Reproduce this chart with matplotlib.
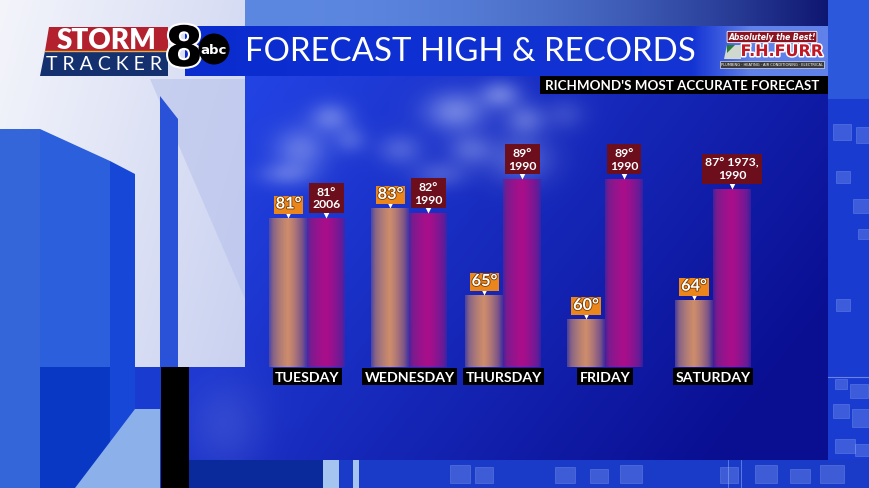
import numpy as np
import matplotlib
matplotlib.use("Agg")
import matplotlib.pyplot as plt
from matplotlib.patches import Rectangle, Polygon, Circle
from matplotlib.colors import to_rgb
import matplotlib.transforms as mtransforms
import matplotlib.patheffects as pe

# ---------------- data ----------------
days = ["TUESDAY", "WEDNESDAY", "THURSDAY", "FRIDAY", "SATURDAY"]
forecast_high = [81, 83, 65, 60, 64]
record_high = [81, 82, 89, 89, 87]
record_years = ["2006", "1990", "1990", "1990", "1973, 1990"]
title = "FORECAST HIGH & RECORDS"
subtitle = "RICHMOND'S MOST ACCURATE FORECAST"

# ---------------- layout ----------------
W, H = 870, 489
BASE = 50            # axis baseline (deg)
BASE_PX = 368.3      # pixel row of baseline
PX_PER_DEG = 4.83
group_x = [307.5, 409.5, 503.5, 605.0, 713.0]
BAR_W = 38

fig = plt.figure(figsize=(W / 100, H / 100), dpi=100)

# ---------- background (pixel coords) ----------
bg = fig.add_axes([0, 0, 1, 1])
bg.set_xlim(0, W)
bg.set_ylim(H, 0)
bg.axis("off")

yy, xx = np.mgrid[0:H, 0:W].astype(float)
img = np.zeros((H, W, 3))
img[:] = to_rgb("#1a3bd0")

# main panel gradient
bright = np.array(to_rgb("#2446e8"))
dark = np.array(to_rgb("#0a0f92"))
t = 0.8 * (xx - 190) / 640 + 0.45 * (yy / 460) - 0.1
t = np.clip(t, 0, 1)[..., None]
panel = bright * (1 - t) + dark * t
# clouds
clouds = [(300, 150, 26, 22, 0.40), (330, 118, 20, 15, 0.40), (285, 175, 26, 12, 0.30),
          (350, 140, 16, 14, 0.26), (400, 150, 22, 16, 0.28), (455, 112, 30, 20, 0.50),
          (500, 95, 20, 14, 0.45), (525, 120, 20, 16, 0.36), (520, 160, 32, 24, 0.34),
          (470, 150, 22, 16, 0.32), (440, 175, 26, 14, 0.26), (565, 115, 20, 16, 0.18),
          (225, 425, 38, 45, 0.14)]
cl = np.zeros((H, W))
for cx, cy, sx, sy, a in clouds:
    cl += a * np.exp(-(((xx - cx) / sx) ** 2 + ((yy - cy) / sy) ** 2))
cl = np.clip(cl, 0, 0.62)[..., None]
cloud_col = np.array(to_rgb("#bcc8f8"))
panel = panel * (1 - cl) + cloud_col * cl
mask = (xx >= 187) & (xx < 828) & (yy < 461)
img[mask] = panel[mask]

# top band above header
tb = (yy < 27) & (xx >= 187) & (xx < 828)
tt = np.clip((xx - 245) / 583, 0, 1) ** 2.2
top_col = (np.array(to_rgb("#5d88e2"))[None, None, :] * (1 - tt[..., None])
           + np.array(to_rgb("#0e1670"))[None, None, :] * tt[..., None])
img[tb] = top_col[tb]
rt = (xx >= 828) & (yy < 100)
img[rt] = to_rgb("#2c58dc")

# light left area
la = (xx < 245) & (yy < 368)
lt = np.clip(xx / 245 * 0.7 + yy / 368 * 0.3, 0, 1)[..., None]
light = np.array(to_rgb("#f4f5fb")) * (1 - lt) + np.array(to_rgb("#c9d1f0")) * lt
img[la] = light[la]
bs = (yy >= 461) & (xx >= 187)
img[bs] = to_rgb("#1a3ac8")

bg.imshow(img, extent=(0, W, H, 0), aspect="auto", zorder=0, interpolation="bilinear")

def poly(pts, color, z=1, alpha=1.0):
    bg.add_patch(Polygon(pts, closed=True, facecolor=color, edgecolor="none", zorder=z, alpha=alpha))

# left decorative blocks
poly([(150, 80), (245, 80), (245, 300)], "#b9c3ec", 1, 0.6)
poly([(0, 130), (40, 130), (40, 489), (0, 489)], "#3466da", 2)
poly([(40, 130), (110, 162), (110, 489), (40, 489)], "#2b5fdc", 2)
poly([(110, 162), (135, 175), (135, 489), (110, 489)], "#1747d6", 2)
poly([(40, 368), (110, 368), (110, 489), (40, 489)], "#0838c4", 2)
poly([(75, 489), (135, 410), (160, 410), (160, 489)], "#8cb0ea", 2)
poly([(160, 97), (178, 120), (178, 368), (160, 368)], "#2a52d8", 2)
poly([(161, 368), (189, 368), (189, 489), (161, 489)], "#000000", 3)
poly([(189, 461), (330, 461), (330, 489), (189, 489)], "#0a2a9c", 2)
poly([(323, 461), (339, 461), (339, 489), (323, 489)], "#a6c4f0", 3)
poly([(353, 461), (359, 461), (359, 489), (353, 489)], "#a6c4f0", 3)

squares = [(833, 125, 18, 16), (856, 128, 14, 16), (836, 172, 14, 12), (853, 200, 17, 14),
           (858, 230, 12, 10), (836, 300, 14, 12), (835, 380, 12, 10), (850, 385, 18, 14),
           (833, 405, 16, 14), (852, 410, 18, 18), (835, 440, 20, 14), (855, 445, 15, 12),
           (450, 466, 20, 18), (475, 468, 18, 16), (555, 468, 20, 16), (590, 470, 18, 14),
           (620, 466, 22, 18), (720, 468, 18, 16), (755, 466, 22, 18), (790, 470, 20, 14),
           (820, 466, 24, 18)]
for sx, sy, sw, sh in squares:
    bg.add_patch(Rectangle((sx, sy), sw, sh, facecolor="#7f9cf0", edgecolor="#a9bdf6",
                           lw=0.5, alpha=0.35, zorder=2))
bg.plot([828, 870], [378, 378], color="#9fb4f2", lw=0.8, alpha=0.6, zorder=2)
bg.plot([728, 728], [461, 489], color="#9fb4f2", lw=0.6, alpha=0.6, zorder=2)
bg.plot([741, 741], [461, 489], color="#9fb4f2", lw=0.6, alpha=0.6, zorder=2)

# ---------- header ----------
n = 400
hcol = np.zeros((1, n, 3))
c1, c2, c3 = np.array(to_rgb("#0a2ccf")), np.array(to_rgb("#1434d4")), np.array(to_rgb("#6080ea"))
for i, v in enumerate(np.linspace(0, 1, n)):
    if v < 0.79:
        hcol[0, i] = c1 * (1 - v / 0.79) + c2 * (v / 0.79)
    else:
        u = min((v - 0.79) / 0.09, 1)
        hcol[0, i] = c2 * (1 - u) + c3 * u
bg.imshow(hcol, extent=(185, 828, 76.5, 27), aspect="auto", zorder=4)

# Storm tracker logo
poly([(49, 28), (168, 28), (168, 52), (45, 52)], "#b3202e", 5)
poly([(45, 52), (168, 52), (168, 77), (40, 77)], "#14306e", 5)
bg.plot([45, 168], [52, 52], color="#e0b040", lw=1.0, zorder=6)
bg.text(107, 41, "STORM", color="white", fontsize=20, fontweight="heavy", family="Lato",
        ha="center", va="center", zorder=7)
bg.text(104, 65, "T R A C K E R", color="white", fontsize=14, family="Lato",
        ha="center", va="center", zorder=7)
bg.text(184, 52, "8", color="black", fontsize=40, fontweight="bold", family="DejaVu Sans",
        ha="center", va="center", zorder=7,
        path_effects=[pe.withStroke(linewidth=3, foreground="white")])
bg.add_patch(Circle((214, 50), 15.5, facecolor="black", edgecolor="none", zorder=8))
bg.text(214, 50.5, "abc", color="white", fontsize=9.5, fontweight="bold", family="DejaVu Sans",
        ha="center", va="center", zorder=9)

bg.text(245, 52, title, color="white", fontsize=23.8, family="Lato",
        ha="left", va="center", zorder=7)

# FH Furr logo
bg.text(772, 38, "Absolutely the Best!", color="white", fontsize=5.5, fontweight="bold",
        style="italic", family="DejaVu Sans", ha="center", va="center", zorder=8,
        bbox=dict(boxstyle="round,pad=0.15", fc="#8a1420", ec="white", lw=0.6))
bg.text(782, 52.5, "F.H.FURR", color="#c01825", fontsize=11.5, fontweight="bold",
        family="DejaVu Sans", ha="center", va="center", zorder=8,
        path_effects=[pe.withStroke(linewidth=2.2, foreground="white")])
poly([(727, 46), (741, 46), (741, 60), (724, 60)], "#d0d8d0", 8)
poly([(727, 46), (735, 46), (727, 54)], "#2a7a3a", 9)
bg.text(772, 65.5, "PLUMBING · HEATING · AIR CONDITIONING · ELECTRICAL", color="white",
        fontsize=2.6, family="DejaVu Sans", ha="center", va="center", zorder=8,
        bbox=dict(boxstyle="square,pad=0.4", fc="#3a3a3a", ec="white", lw=0.4))

# subtitle strip
bg.add_patch(Rectangle((540, 77), 288, 18, facecolor="black", edgecolor="none", zorder=5))
bg.text(682, 86.3, subtitle, color="white", fontsize=9.6, fontweight="bold", family="Lato",
        ha="center", va="center", zorder=6)

# ---------- chart axes (degrees on y) ----------
ax = fig.add_axes([0, 0, 1, 1], facecolor="none")
ymin = BASE - (H - BASE_PX) / PX_PER_DEG
ymax = BASE + BASE_PX / PX_PER_DEG
ax.axis("off")

fx = [g - BAR_W / 2 for g in group_x]
rx = [g + BAR_W / 2 for g in group_x]
fbars = ax.bar(fx, [v - BASE for v in forecast_high], bottom=BASE, width=BAR_W,
               color="#b87a70", edgecolor="none", zorder=3)
rbars = ax.bar(rx, [v - BASE for v in record_high], bottom=BASE, width=BAR_W,
               color="#9a1288", edgecolor="none", zorder=3)

def hgrad(left, center, right, n=64):
    u = np.linspace(-1, 1, n)
    out = np.zeros((1, n, 4))
    L, C, R = map(lambda c: np.array(to_rgb(c)), (left, center, right))
    for i, s in enumerate(u):
        w = abs(s) ** 1.3
        edge = L if s < 0 else R
        out[0, i, :3] = C * (1 - w) + edge * w
        out[0, i, 3] = 1.0 - 0.35 * max(0, abs(s) - 0.8) / 0.2
    return out

fgrad = hgrad("#6e5590", "#cc8c6c", "#5a3c94")
rgrad = hgrad("#6c2090", "#aa0e8a", "#54209c")
for bars, grad in ((fbars, fgrad), (rbars, rgrad)):
    for b in bars:
        x0, y0 = b.get_x(), b.get_y()
        im = ax.imshow(grad, extent=(x0, x0 + b.get_width(), y0, y0 + b.get_height()),
                       aspect="auto", zorder=4, interpolation="bilinear")
        im.set_clip_path(b)
        b.set_alpha(0)

ax.set_xlim(0, W)
ax.set_ylim(ymin, ymax)

def off(dx_px, dy_px):
    return ax.transData + mtransforms.ScaledTranslation(dx_px / 100, dy_px / 100,
                                                        fig.dpi_scale_trans)

for x, v in zip(fx, forecast_high):
    ax.plot([x], [v], marker="v", ms=5, color="white", mec="none",
            transform=off(0, 3), zorder=6)
    ax.text(x, v, f"{v}°", transform=off(0, 13), ha="center", va="center",
            color="white", fontsize=11.8, fontweight="bold", family="Lato", zorder=7,
            path_effects=[pe.withStroke(linewidth=1.2, foreground="#7a3a00")],
            bbox=dict(boxstyle="square,pad=0.12", fc="#ea861c", ec="none"))

for x, v, yr in zip(rx, record_high, record_years):
    if "," in yr:
        a, b = [s.strip() for s in yr.split(",")]
        lab = f"{v}° {a},\n{b}"
    else:
        lab = f"{v}°\n{yr}"
    ax.plot([x], [v], marker="v", ms=5, color="white", mec="none",
            transform=off(0, 3), zorder=6)
    ax.text(x, v, lab, transform=off(0, 20), ha="center", va="center",
            color="white", fontsize=8.8, fontweight="bold", family="Lato", zorder=7,
            linespacing=1.2, multialignment="center",
            bbox=dict(boxstyle="square,pad=0.25", fc="#6c0e1c", ec="none"))

for g, d in zip(group_x, days):
    ax.text(g, BASE, d, transform=off(0, -9.5), ha="center", va="center",
            color="white", fontsize=10.2, fontweight="bold", family="Lato", zorder=7,
            bbox=dict(boxstyle="square,pad=0.18", fc="black", ec="none"))

fig.savefig("out.png", dpi=100)
